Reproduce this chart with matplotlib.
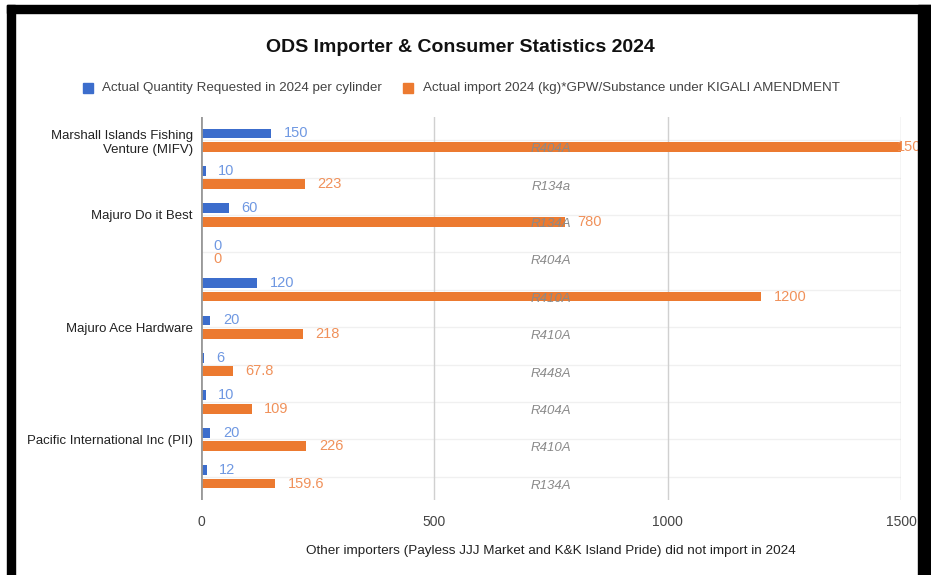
# ODS importer chart, horizontal bars
import matplotlib
matplotlib.use('Agg')
import matplotlib.pyplot as plt
from matplotlib.patches import Rectangle
import numpy as np

plt.rcParams['font.family'] = ['Liberation Sans', 'DejaVu Sans']

# data
quantity = [150, 10, 60, 0, 120, 20, 6, 10, 20, 12]
imports = [1500, 223, 780, 0, 1200, 218, 67.8, 109, 226, 159.6]
import_labels = ['1500', '223', '780', '0', '1200', '218', '67.8', '109', '226', '159.6']
substances = ['R404A', 'R134a', 'R134A', 'R404A', 'R410A', 'R410A', 'R448A', 'R404A', 'R410A', 'R134A']
importers = ['Marshall Islands Fishing\nVenture (MIFV)', '', 'Majuro Do it Best', '', '',
             'Majuro Ace Hardware', '', '', 'Pacific International Inc (PII)', '']

blue = '#3c6dcc'
orange = '#ec7a30'
blue_txt = '#6f98e2'
orange_txt = '#f0915a'

W, H = 931, 575
fig = plt.figure(figsize=(W / 100, H / 100), dpi=100)
fig.patch.set_facecolor('white')

ax = fig.add_axes([201 / W, 1 - 500 / H, 700 / W, 383 / H])
y = np.arange(len(quantity))
bh = 0.26
off = 0.18
ax.barh(y - off, quantity, height=bh, color=blue, zorder=3)
ax.barh(y + off, imports, height=bh, color=orange, zorder=3)

for i in range(len(y)):
    ax.annotate(str(quantity[i]), (quantity[i], y[i] - off), xytext=(9, 0),
                textcoords='offset points', va='center', ha='left',
                color=blue_txt, fontsize=10.5, zorder=5, annotation_clip=False)
    dx = 9
    if imports[i] >= 1500:
        dx = -3
    ax.annotate(import_labels[i], (imports[i], y[i] + off), xytext=(dx, 0),
                textcoords='offset points', va='center', ha='left',
                color=orange_txt, fontsize=10.5, zorder=5, annotation_clip=False)
    ax.text(750, y[i] + 0.24, substances[i], ha='center', va='center',
            color='#8a8a8a', fontsize=9.5, style='italic', zorder=4)

ax.set_xlim(0, 1500)
ax.set_ylim(9.62, -0.62)
ax.set_xticks([0, 500, 1000, 1500])
ax.set_xticklabels(['0', '500', '1000', '1500'])
ax.set_yticks(y)
ax.set_yticklabels(importers, linespacing=1.3)
ax.tick_params(axis='x', length=0, pad=11, labelsize=10, labelcolor='#444444')
ax.tick_params(axis='y', length=0, pad=6, labelsize=9.5, labelcolor='#222222')

ax.grid(axis='x', color='#d0d0d0', linewidth=1, zorder=0)
for yy in y:
    ax.axhline(yy, color='#f0f0f0', linewidth=1, zorder=1)
ax.axvline(0, color='#999999', linewidth=2, zorder=4)
for s in ax.spines.values():
    s.set_visible(False)

# title, legend, axis note
fig.text(460 / W, 1 - 47 / H, 'ODS Importer & Consumer Statistics 2024',
         ha='center', va='center', fontsize=14, fontweight='bold', color='#111111')

fig.patches.append(Rectangle((83 / W, 1 - 93 / H), 10 / W, 10 / H,
                             transform=fig.transFigure, color=blue))
fig.text(102 / W, 1 - 88 / H, 'Actual Quantity Requested in 2024 per cylinder',
         ha='left', va='center', fontsize=9.6, color='#444444')
fig.patches.append(Rectangle((403 / W, 1 - 93 / H), 10 / W, 10 / H,
                             transform=fig.transFigure, color=orange))
fig.text(423 / W, 1 - 88 / H, 'Actual import 2024 (kg)*GPW/Substance under KIGALI AMENDMENT',
         ha='left', va='center', fontsize=9.6, color='#444444')

fig.text(551 / W, 1 - 551 / H,
         'Other importers (Payless JJJ Market and K&K Island Pride) did not import in 2024',
         ha='center', va='center', fontsize=9.7, color='#222222')

# black frame of the screenshot
for (x0, y0, w, h) in [(7, 5, 924, 8), (7, 5, 8, 570), (918, 5, 13, 570)]:
    fig.add_artist(Rectangle((x0 / W, 1 - (y0 + h) / H), w / W, h / H,
                             transform=fig.transFigure, color='black', zorder=20))

fig.savefig('out.png', dpi=100)
